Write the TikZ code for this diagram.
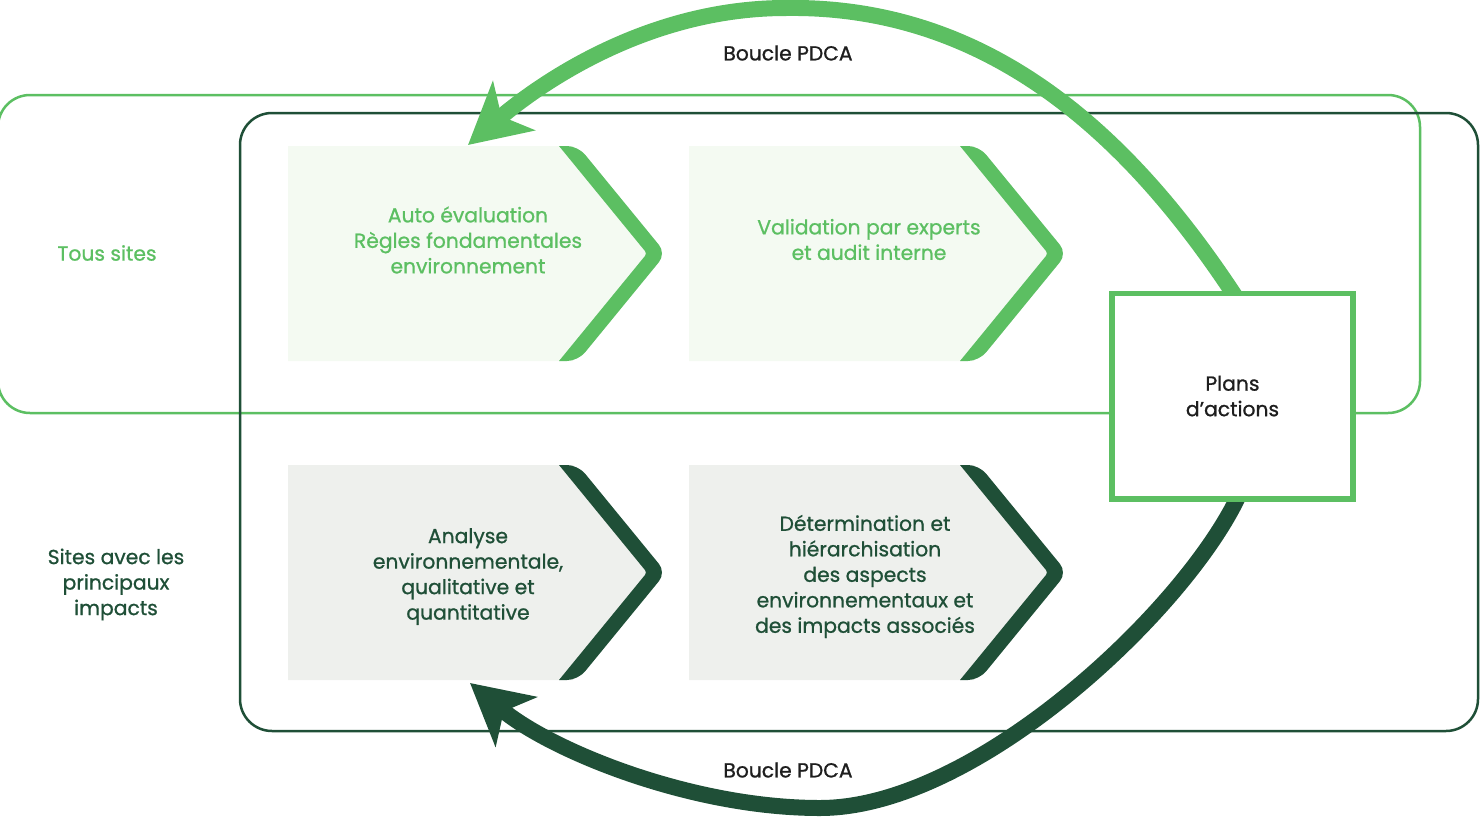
\documentclass[tikz,border=0pt]{standalone}
\usepackage{fontspec}
\setmainfont{Poppins}[FakeBold=0.9]
\usetikzlibrary{arrows.meta,calc}
\definecolor{lg}{HTML}{5CBF62}
\definecolor{dg}{HTML}{1F4F37}
\definecolor{fillg}{HTML}{F4FAF2}
\definecolor{fillgr}{HTML}{EEF0ED}
\definecolor{txt}{HTML}{1E1E1E}
\newcommand\chevshape[4]{%
  \fill[#3] (#1,#2) -- (#1+285,#2) -- (#1+370,#2+107.5) -- (#1+285,#2+215) -- (#1,#2+215) -- cycle;
  \fill[#4] (#1+271,#2) [rounded corners=11] -- (#1+290,#2) -- (#1+378,#2+107.5) -- (#1+290,#2+215) [sharp corners] -- (#1+271,#2+215) [rounded corners=3] -- (#1+359,#2+107.5) [sharp corners] -- cycle;
}
\begin{document}
\begin{tikzpicture}[x=1pt,y=-1pt,
  lbl/.style={font=\fontsize{20.3}{25.5}\selectfont, align=center, inner sep=0},
  frame/.style={line width=2.5, rounded corners=32},
  loop/.style={line width=16, -{Stealth[length=60pt, width=64pt, inset=16pt]}}]
\useasboundingbox (0,0) rectangle (1481,817);
% frames
\draw[frame, lg] (-2,95) rectangle (1420,413);
\draw[frame, dg] (240,113) rectangle (1478,731);
% chevrons
\chevshape{288}{146}{fillg}{lg}
\chevshape{689}{146}{fillg}{lg}
\chevshape{288}{465}{fillgr}{dg}
\chevshape{689}{465}{fillgr}{dg}
\node[lbl, text=lg] (c1) at (468,240) {Auto évaluation\\Règles fondamentales\\environnement};
\node[lbl, text=lg] (c2) at (869,239.5) {Validation par experts\\et audit interne};
\node[lbl, text=dg] (c3) at (468,576.5) {Analyse\\environnementale,\\qualitative et\\quantitative};
\node[lbl, text=dg] (c4) at (865,576.5) {Détermination et\\hiérarchisation\\des aspects\\environnementaux et\\des impacts associés};
% side labels
\node[lbl, text=lg] (tous) at (107,253) {Tous sites};
\node[lbl, text=dg] (sites) at (116,584.5) {Sites avec les\\principaux\\impacts};
% reference coordinates
\coordinate (pc) at (1232.5,396);
\coordinate (s1) at (1239,302);
\coordinate (s2) at (1242,488);
\coordinate (t1) at (468,145);
\coordinate (t2) at (470,683);
% loops
\draw[loop, lg] (s1) .. controls (1140,150) and (1000,5) .. (786,8) .. controls (640,8) and (530,92) .. (t1);
\draw[loop, dg] (s2) .. controls (1195,600) and (980,808) .. (820,808) .. controls (690,808) and (550,750) .. (t2);
\node[draw=lg, line width=5.5, fill=white, minimum width=241, minimum height=205.5, inner sep=0] (plans) at (pc) {};
\node[lbl, text=txt] (plt) at (plans.center) {Plans\\d’actions};
\node[lbl, text=txt] (b1) at (788,53) {Boucle PDCA};
\node[lbl, text=txt] (b2) at (788,770) {Boucle PDCA};
\end{tikzpicture}
\end{document}
